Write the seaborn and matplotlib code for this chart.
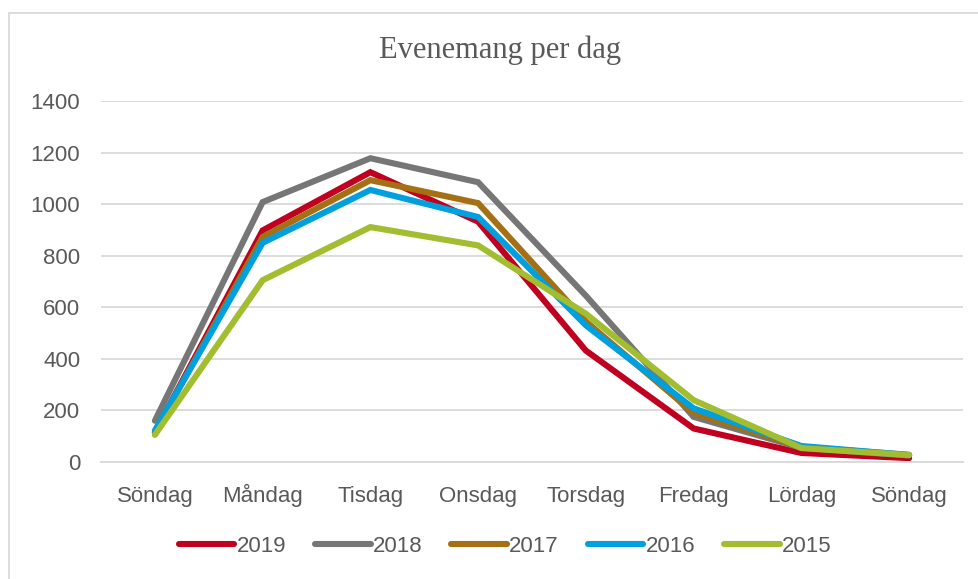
import pandas as pd
import matplotlib
matplotlib.use("Agg")
import matplotlib.pyplot as plt
import seaborn as sns
from matplotlib.patches import Rectangle

# data
days = ["Söndag", "Måndag", "Tisdag", "Onsdag", "Torsdag", "Fredag", "Lördag", "Söndag"]
years = ["2019", "2018", "2017", "2016", "2015"]
v2019 = [115, 898, 1124, 932, 432, 130, 35, 15]
v2018 = [160, 1008, 1178, 1085, 645, 175, 55, 25]
v2017 = [115, 873, 1093, 1004, 545, 190, 58, 28]
v2016 = [122, 850, 1055, 950, 530, 208, 62, 27]
v2015 = [105, 705, 911, 840, 575, 240, 54, 27]
colors = ["#C0001E", "#767676", "#A56F14", "#009FDD", "#A2BD30"]

rows = []
for year, vals in zip(years, [v2019, v2018, v2017, v2016, v2015]):
    for i, v in enumerate(vals):
        rows.append({"pos": i, "value": v, "year": year})
df = pd.DataFrame(rows)

sns.set_style("white")
plt.rcParams["font.family"] = ["Liberation Sans", "DejaVu Sans"]

fig = plt.figure(figsize=(9.79, 5.79), dpi=100)
ax = fig.add_axes([101 / 979, 1 - 462 / 579, 862 / 979, 361 / 579])

sns.lineplot(data=df, x="pos", y="value", hue="year", hue_order=years,
             palette=colors, linewidth=4.4, ax=ax, legend=False)
for line in ax.lines:
    line.set_solid_capstyle("round")
    line.set_solid_joinstyle("miter")

ax.set_xlim(-0.5, 7.5)
ax.set_ylim(0, 1400)
ax.set_yticks(range(0, 1401, 200))
ax.set_xticks(range(len(days)))
ax.set_xticklabels(days)
ax.yaxis.grid(True, color="#D9D9D9", linewidth=1.3)
ax.set_axisbelow(True)
for s in ["left", "right", "top"]:
    ax.spines[s].set_visible(False)
ax.spines["bottom"].set_color("#D9D9D9")
ax.spines["bottom"].set_linewidth(1.3)
ax.tick_params(axis="both", length=0, labelsize=16, labelcolor="#595959")
ax.tick_params(axis="x", pad=29)
ax.tick_params(axis="y", pad=15)
for lab in ax.get_xticklabels():
    lab.set_va("baseline")
ax.set_xlabel("")
ax.set_ylabel("")

fig.text(0.511, 1 - 50 / 579, "Evenemang per dag", ha="center", va="center",
         fontsize=22, color="#595959", family=["Liberation Serif", "DejaVu Serif"])

# legend
handles = [plt.Line2D([0], [0], color=c, linewidth=4.4, solid_capstyle="round")
           for c in colors]
fig.legend(handles, years, loc="center", bbox_to_anchor=(0.516, 1 - 546 / 579),
           ncol=5, frameon=False, fontsize=16, labelcolor="#595959",
           handlelength=2.5, handletextpad=0.1, columnspacing=1.3)

# outer chart border
fig.patches.append(Rectangle((9 / 979, -0.05), 1.1, 1 - 12.5 / 579 + 0.05,
                             transform=fig.transFigure, fill=False,
                             edgecolor="#D9D9D9", linewidth=1.3))

fig.savefig("out.png", dpi=100)
